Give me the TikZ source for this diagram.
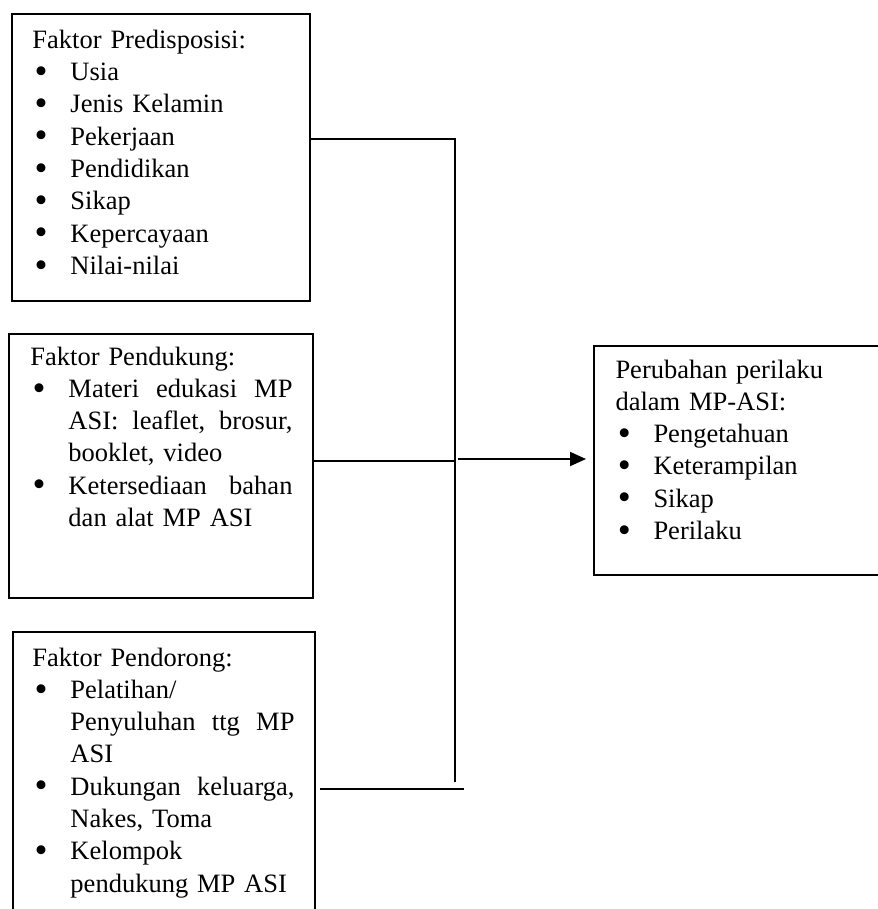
\documentclass[tikz,border=0pt]{standalone}
\usepackage{fontspec}
\setmainfont{Liberation Serif}
\usetikzlibrary{arrows.meta}
\newcommand\bl{\makebox[15.2pt][l]{\hspace{0.9pt}\raisebox{-1.1pt}{\scalebox{1.4}{\textbullet}}}}
\newcommand\ind{\hspace*{15.2pt}}
\newcommand\jl[1]{\makebox[89.6pt][s]{#1}}
\tikzset{
  boxst/.style={draw, line width=0.75pt, rectangle, inner sep=0pt, anchor=north west},
  txt/.style={anchor=base west, inner sep=0pt, text width=112pt, align=left,
    font=\fontsize{10.6pt}{12.92pt}\selectfont},
  conn/.style={line width=0.75pt},
  arr/.style={line width=0.75pt, -{Triangle[length=6.4pt,width=5.6pt]}, shorten >=2.8pt}
}
\begin{document}
\begin{tikzpicture}[x=0.4pt,y=-0.4pt]
\useasboundingbox (0,0) rectangle (878,909);
\clip (0,0) rectangle (878,909);
\fill[white] (0,0) rectangle (878,909);
% boxes
\node[boxst, minimum width=119.2pt, minimum height=114.8pt] (b1) at (11,13) {};
\node[boxst, minimum width=121.6pt, minimum height=105.6pt] (b2) at (8,333) {};
\node[boxst, minimum width=120.8pt, minimum height=147.6pt] (b3) at (12,631) {};
\node[boxst, minimum width=118.8pt, minimum height=91.6pt] (b4) at (593,345) {};
% texts
\node[txt] (t1) at (32,48.3) {Faktor Predisposisi:\\
\bl Usia\\
\bl Jenis Kelamin\\
\bl Pekerjaan\\
\bl Pendidikan\\
\bl Sikap\\
\bl Kepercayaan\\
\bl Nilai-nilai};
\node[txt] (t2) at (30,365) {Faktor Pendukung:\\
\bl\jl{Materi\hfill edukasi\hfill MP}\\
\ind\jl{ASI:\hfill leaflet,\hfill brosur,}\\
\ind booklet, video\\
\bl\jl{Ketersediaan\hfill bahan}\\
\ind dan alat MP ASI};
\node[txt] (t3) at (32,666) {Faktor Pendorong:\\
\bl Pelatihan/\\
\ind\jl{Penyuluhan\hfill ttg\hfill MP}\\
\ind ASI\\
\bl\jl{Dukungan\hfill keluarga,}\\
\ind Nakes, Toma\\
\bl Kelompok\\
\ind pendukung MP ASI};
\node[txt] (t4) at (615,378) {Perubahan perilaku\\
dalam MP-ASI:\\
\bl Pengetahuan\\
\bl Keterampilan\\
\bl Sikap\\
\bl Perilaku};
% connectors
\coordinate (j1) at (455,139);
\coordinate (j2) at (455,782);
\coordinate (j3) at (455,461);
\coordinate (a0) at (458,459);
\coordinate (j4) at (464,789);
\draw[conn] (b1.east |- j1) -- (j1) -- (j2);
\draw[conn] (b2.east |- j3) -- (j3);
\draw[arr] (a0) -- (b4.west |- a0);
\draw[conn] ([xshift=1.6pt]b3.east |- j4) -- (j4);
\end{tikzpicture}
\end{document}
